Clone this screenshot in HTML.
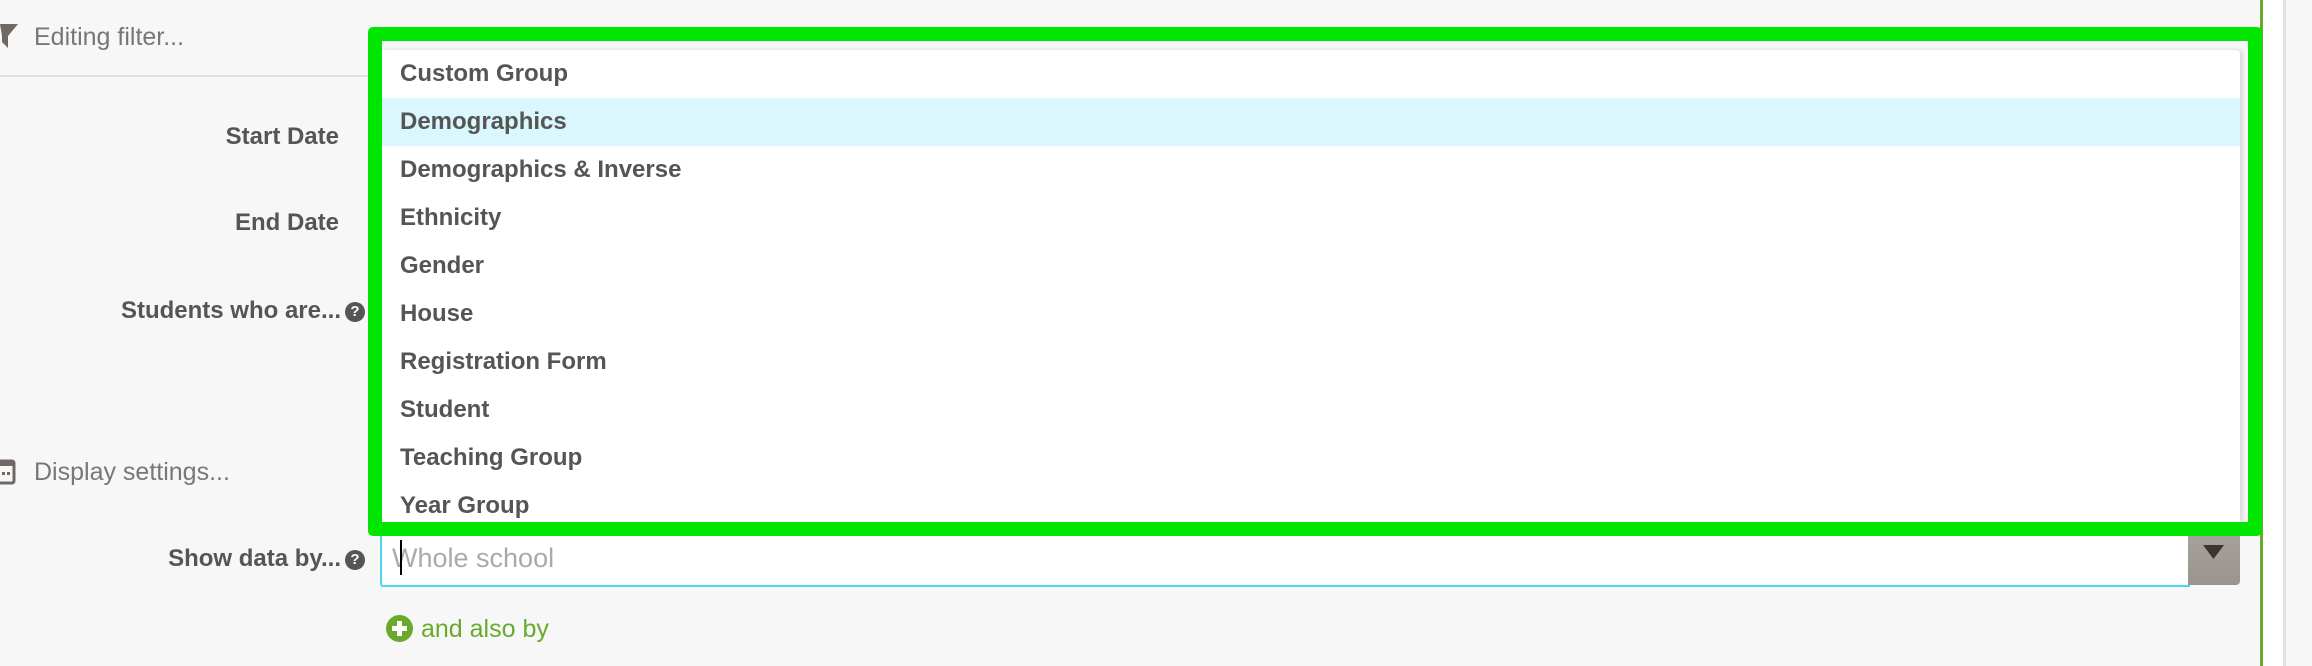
<!DOCTYPE html>
<html><head><meta charset="utf-8"><style>
html,body{margin:0;padding:0}
body{width:2312px;height:666px;background:#f7f7f7;position:relative;overflow:hidden;font-family:"Liberation Sans",sans-serif}
.a{position:absolute;white-space:nowrap}
.lbl{position:absolute;right:1973px;font-weight:bold;font-size:24px;color:#555;line-height:30px}
.item{position:absolute;left:400px;font-weight:bold;font-size:24px;color:#555;line-height:48px;height:48px}
.q{display:inline-block;width:20px;height:20px;border-radius:50%;background:#555;color:#fff;font-size:15px;line-height:20px;text-align:center;font-weight:bold;vertical-align:middle;margin-left:4px}
</style></head><body>
<svg class="a" style="left:0;top:22px" width="20" height="28"><polygon points="0,2 18,2 8,14 8,26 2,20 2,14" fill="#6f6865"/></svg>
<div class="a" style="left:34px;top:20px;font-size:25px;color:#777;line-height:34px">Editing filter...</div>
<div class="a" style="left:0;top:75px;width:2240px;height:2px;background:#e2e2e2"></div>
<div class="lbl" style="top:122px">Start Date</div>
<div class="lbl" style="top:208px">End Date</div>
<div class="lbl" style="top:296px;right:1947px">Students who are...<span class="q">?</span></div>
<svg class="a" style="left:0;top:459px" width="16" height="26"><rect x="-6" y="2" width="20" height="22" rx="2" fill="none" stroke="#6f6865" stroke-width="3"/><rect x="-6" y="2" width="20" height="5" fill="#6f6865"/><rect x="2" y="13" width="3" height="3" fill="#6f6865"/><rect x="7" y="13" width="3" height="3" fill="#6f6865"/></svg>
<div class="a" style="left:34px;top:455px;font-size:25px;color:#777;line-height:34px">Display settings...</div>
<div class="lbl" style="top:544px;right:1947px">Show data by...<span class="q">?</span></div>
<div class="a" style="left:380px;top:520px;width:1808px;height:63px;background:#fff;border:2px solid #4dd6ec;border-right:none;border-radius:3px 0 0 3px"></div>
<div class="a" style="left:2188px;top:520px;width:52px;height:65px;background:linear-gradient(#a9a49f,#9a958f);border-radius:0 4px 4px 0"></div>
<svg class="a" style="left:2203px;top:545px" width="22" height="16"><polygon points="0,0 21,0 10.5,14" fill="#3b3532"/></svg>
<div class="a" style="left:392px;top:538px;font-size:27px;color:#aaa;line-height:40px">Whole school</div>
<div class="a" style="left:400px;top:540px;width:2px;height:35px;background:#000"></div>
<svg class="a" style="left:386px;top:615px" width="28" height="28"><circle cx="13.5" cy="13.5" r="13.5" fill="#6aaa2a"/><rect x="11" y="6" width="5" height="15" fill="#fff"/><rect x="6" y="11" width="15" height="5" fill="#fff"/></svg>
<div class="a" style="left:421px;top:612px;font-size:25px;color:#6aaa2a;line-height:34px">and also by</div>
<div class="a" style="left:2260px;top:0;width:3px;height:666px;background:#6aaa2a"></div>
<div class="a" style="left:2263px;top:0;width:20px;height:666px;background:#fff"></div>
<div class="a" style="left:2283px;top:0;width:3px;height:666px;background:#e2e2e2"></div>
<div class="a" style="left:382px;top:50px;width:1858px;height:472px;background:#fff;border-radius:0 4px 0 0;box-shadow:3px 0 4px rgba(0,0,0,0.12)"></div>
<div class="a" style="left:382px;top:98px;width:1858px;height:48px;background:#d9f7fc"></div>
<div class="item" style="top:50px">Custom Group</div>
<div class="item" style="top:98px">Demographics</div>
<div class="item" style="top:146px">Demographics &amp; Inverse</div>
<div class="item" style="top:194px">Ethnicity</div>
<div class="item" style="top:242px">Gender</div>
<div class="item" style="top:290px">House</div>
<div class="item" style="top:338px">Registration Form</div>
<div class="item" style="top:386px">Student</div>
<div class="item" style="top:434px">Teaching Group</div>
<div class="item" style="top:482px">Year Group</div>
<div class="a" style="left:368px;top:27px;width:1866px;height:481px;border:14px solid #00e600;border-radius:5px"></div>
</body></html>
